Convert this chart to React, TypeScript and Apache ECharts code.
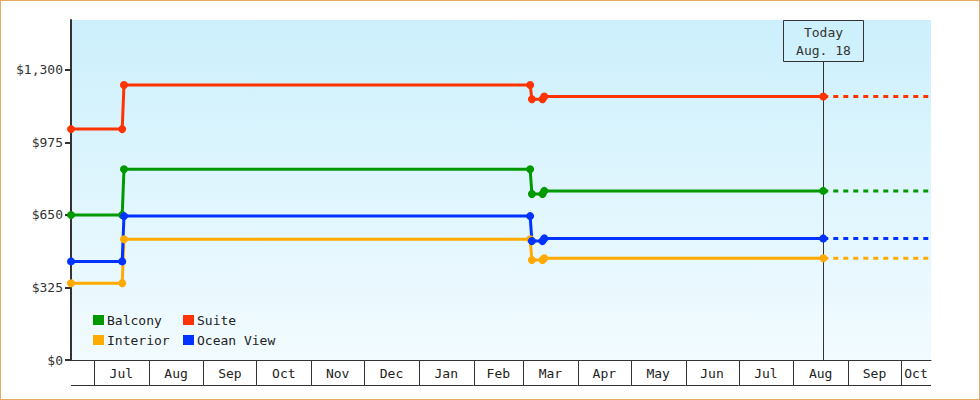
import React, { useEffect, useRef } from 'react'
import * as echarts from 'echarts'

const FONT = '"DejaVu Sans Mono", monospace'

const seriesNames = ['Balcony', 'Suite', 'Interior', 'Ocean View']
const seriesColors = ['#009900', '#ff3300', '#ffaa00', '#0033ff']

// price observations (same dates for every cabin type)
const priceDates = ['2024-06-18', '2024-07-17', '2024-07-18', '2025-03-05', '2025-03-06', '2025-03-12', '2025-03-13', '2025-08-18']
const balconyPrices = [650, 650, 855, 855, 744, 744, 758, 758]
const suitePrices = [1035, 1035, 1233, 1233, 1169, 1169, 1181, 1181]
const interiorPrices = [344, 344, 541, 541, 448, 448, 456, 456]
const oceanViewPrices = [442, 442, 645, 645, 533, 533, 545, 545]

const axisStart = '2024-06-18'
const axisEnd = '2025-10-18'
const todayDate = '2025-08-18'
const todayLabel = 'Today\nAug. 18'

const monthStarts = [
  '2024-07-01', '2024-08-01', '2024-09-01', '2024-10-01', '2024-11-01', '2024-12-01',
  '2025-01-01', '2025-02-01', '2025-03-01', '2025-04-01', '2025-05-01', '2025-06-01',
  '2025-07-01', '2025-08-01', '2025-09-01', '2025-10-01'
]
const monthLabels = ['Jul', 'Aug', 'Sep', 'Oct', 'Nov', 'Dec', 'Jan', 'Feb', 'Mar', 'Apr', 'May', 'Jun', 'Jul', 'Aug', 'Sep', 'Oct']

const yTicks = [0, 325, 650, 975, 1300]
const yMax = 1524

const ts = (d: string) => {
  const [y, m, day] = d.split('-').map(Number)
  return Date.UTC(y, m - 1, day)
}

const App: React.FC = () => {
  const chartRef = useRef<HTMLDivElement>(null)

  useEffect(() => {
    document.body.style.margin = '0'
    if (!chartRef.current) return
    const chart = echarts.init(chartRef.current, null, { renderer: 'svg' })

    const xMin = ts(axisStart)
    const xMax = ts(axisEnd)
    const tickValues = monthStarts.map(ts)
    // one segment per (visible part of a) month: [start, end, labelIndex]
    const monthSegments: number[][] = [[xMin, tickValues[0], -1]]
    tickValues.forEach((s, i) => {
      const e = i + 1 < tickValues.length ? tickValues[i + 1] : xMax
      monthSegments.push([s, Math.min(e, xMax), i])
    })

    const allPrices = [balconyPrices, suitePrices, interiorPrices, oceanViewPrices]
    const todayTs = ts(todayDate)

    const lineSeries: any[] = []
    allPrices.forEach((prices, i) => {
      lineSeries.push({
        name: seriesNames[i],
        type: 'line',
        data: priceDates.map((d, j) => [ts(d), prices[j]]),
        symbol: 'circle',
        symbolSize: 8,
        color: seriesColors[i],
        lineStyle: { width: 3, color: seriesColors[i] },
        itemStyle: { color: seriesColors[i] },
        emphasis: { disabled: true },
        z: 3
      })
      lineSeries.push({
        name: seriesNames[i] + ' forecast',
        type: 'line',
        data: [[todayTs, prices[prices.length - 1]], [xMax, prices[prices.length - 1]]],
        symbol: 'none',
        color: seriesColors[i],
        lineStyle: { width: 3, type: [5, 5], color: seriesColors[i] },
        emphasis: { disabled: true },
        z: 2
      })
    })

    const legendBase = {
      orient: 'vertical',
      top: 312,
      padding: 0,
      itemGap: 6,
      itemWidth: 11,
      itemHeight: 10,
      icon: 'rect',
      selectedMode: false,
      textStyle: { fontFamily: FONT, fontSize: 13, color: '#222', lineHeight: 14, padding: [0, 0, 0, -2] }
    }

    const option: any = {
      animation: false,
      grid: {
        left: 70,
        right: 48,
        top: 19,
        bottom: 39,
        show: true,
        borderWidth: 0,
        backgroundColor: new echarts.graphic.LinearGradient(0, 0, 0, 1, [
          { offset: 0, color: '#ccf0fc' },
          { offset: 1, color: '#f2fbff' }
        ])
      },
      legend: [
        { ...legendBase, data: ['Balcony', 'Interior'], left: 92 },
        { ...legendBase, data: ['Suite', 'Ocean View'], left: 182 }
      ],
      xAxis: {
        type: 'time',
        min: xMin,
        max: xMax,
        axisLine: { show: true, lineStyle: { color: '#333', width: 1 } },
        axisTick: { show: false },
        axisLabel: { show: false },
        splitLine: { show: false }
      },
      yAxis: {
        type: 'value',
        min: 0,
        max: yMax,
        interval: 325,
        axisLine: { show: true, lineStyle: { color: '#333', width: 2 } },
        axisTick: { show: true, customValues: yTicks, length: 6, lineStyle: { color: '#333', width: 2 } },
        axisLabel: {
          customValues: yTicks,
          formatter: (v: number) => '$' + v.toLocaleString('en-US'),
          margin: 8,
          color: '#333',
          fontFamily: FONT,
          fontSize: 13
        },
        splitLine: { show: false }
      },
      series: [
        {
          // month boxes under the axis
          type: 'custom',
          name: 'months',
          silent: true,
          clip: false,
          data: monthSegments,
          encode: { x: [0, 1] },
          renderItem: (params: any, api: any) => {
            const s = api.coord([api.value(0), 0])
            const e = api.coord([api.value(1), 0])
            const idx = api.value(2)
            const y = s[1]
            const yb = Math.round(y + 25) + 0.5
            const xs = Math.round(s[0]) + 0.5
            const children: any[] = [
              { type: 'line', shape: { x1: s[0], y1: yb, x2: e[0], y2: yb }, style: { stroke: '#333', lineWidth: 1 } }
            ]
            if (idx >= 0) {
              children.push({ type: 'line', shape: { x1: xs, y1: y, x2: xs, y2: yb }, style: { stroke: '#333', lineWidth: 1 } })
              children.push({
                type: 'text',
                x: (s[0] + e[0]) / 2,
                y: y + 13,
                style: { text: monthLabels[idx], fill: '#222', font: '13px ' + FONT, align: 'center', verticalAlign: 'middle' }
              })
            }
            return { type: 'group', children }
          }
        },
        {
          type: 'custom',
          name: 'today',
          silent: true,
          z: 1,
          data: [[todayTs, 0]],
          encode: { x: 0, y: 1 },
          renderItem: (params: any, api: any) => {
            const pt = api.coord([api.value(0), 0])
            const x = Math.round(pt[0]) + 0.5
            const top = Math.round(params.coordSys.y) + 0.5
            return {
              type: 'group',
              children: [
                { type: 'line', shape: { x1: x, y1: pt[1], x2: x, y2: top + 41 }, style: { stroke: '#333', lineWidth: 1 } },
                { type: 'rect', shape: { x: x - 40, y: top, width: 80, height: 41 }, style: { fill: 'none', stroke: '#333', lineWidth: 1 } },
                {
                  type: 'text',
                  x: x,
                  y: top + 20.5,
                  style: { text: todayLabel, fill: '#333', font: '13px ' + FONT, align: 'center', verticalAlign: 'middle', lineHeight: 18 }
                }
              ]
            }
          }
        },
        ...lineSeries
      ]
    }

    chart.setOption(option)
    return () => {
      chart.dispose()
    }
  }, [])

  return (
    <div style={{ width: 980, height: 400, boxSizing: 'border-box', border: '1px solid #e9aa64', background: '#fff' }}>
      <div ref={chartRef} style={{ width: 978, height: 398 }} />
    </div>
  )
}

export default App
